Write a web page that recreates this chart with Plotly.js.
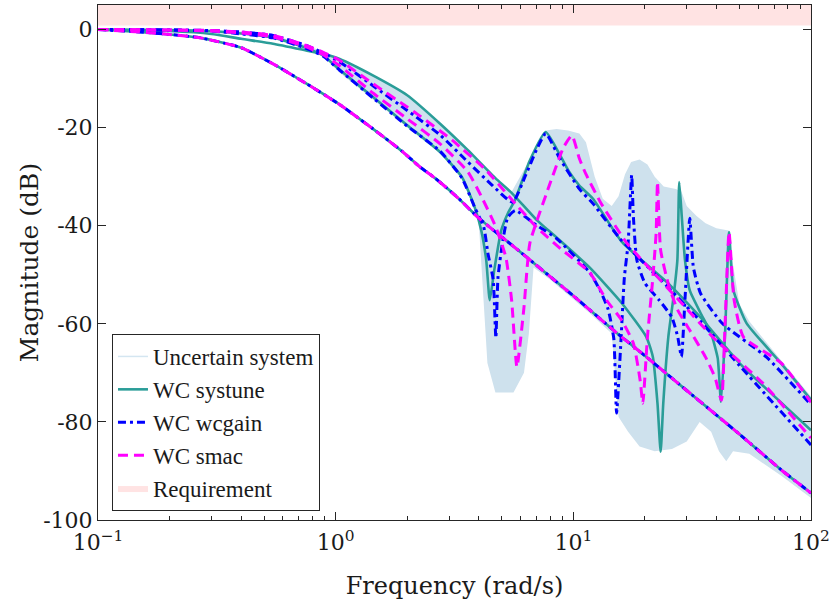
<!DOCTYPE html>
<html>
<head>
<meta charset="utf-8">
<script src="https://cdn.plot.ly/plotly-3.0.1.min.js"></script>
<style>
	body { margin: 0; background: white; }
</style>
</head>
<body>
<div id="chart" style="width:830px;height:600px"></div>
<script>
// axis ticks
const freqTicks = [0.1, 1, 10, 100]
const freqTickText = ['10<sup>−1</sup>', '10<sup>0</sup>', '10<sup>1</sup>', '10<sup>2</sup>']
const magTicks = [0, -20, -40, -60, -80, -100]
const magTickText = ['0', '-20', '-40', '-60', '-80', '-100']

// requirement band (dB)
const reqFreq = [0.1, 100]
const reqLow = 0.8
const reqHigh = 5

// lower output channel, same for every worst case (rad/s, dB)
const lowFreq = [0.1, 0.15, 0.2, 0.27, 0.4, 0.545, 0.757, 1.04, 1.44, 1.9, 2.26, 2.62, 3.3, 3.97, 6, 10, 15, 20, 30, 50, 75, 100]
const lowMag = [0, -0.5, -1.0, -1.7, -3.7, -7.0, -11.1, -15.3, -20.3, -24.8, -28.0, -30.3, -34.5, -38.3, -45.4, -54.3, -61.6, -66.5, -73.6, -82.5, -89.8, -94.5]

// WC systune
const systuneAFreq = [0.1, 0.2, 0.3, 0.4, 0.545, 0.757, 0.89, 1.04, 1.44, 2.0, 2.75, 3.6, 4.7, 5.5, 7, 8.5, 11.7, 16, 20.3, 21.6, 22.6, 23.3, 23.9, 25.1, 26.4, 27.4, 27.9, 28.6, 29.5, 30.9, 34.3, 38, 40.5, 41.8, 43.5, 45.2, 47.2, 53.6, 74.7, 100]
const systuneAMag = [0, -0.3, -0.9, -1.9, -2.9, -4.3, -5.0, -6.0, -9.4, -13.4, -19.2, -24.6, -30.3, -33.3, -38.8, -42.4, -48.5, -55.8, -62.7, -66.7, -76.2, -86.1, -76.2, -62.7, -54.5, -47, -31.1, -38.2, -47, -53.2, -57.8, -62, -67, -75.9, -62, -41.3, -53.2, -59.9, -68, -75.5]
const systuneBFreq = [0.1, 0.2, 0.3, 0.4, 0.545, 0.757, 0.89, 1.04, 1.44, 2.0, 2.75, 3.4, 3.85, 4.1, 4.3, 4.45, 4.65, 4.97, 5.3, 5.68, 6.56, 7.65, 8.77, 9.6, 10.6, 12.1, 16, 25.5, 34.3, 50, 100]
const systuneBMag = [0, -0.1, -0.3, -0.8, -1.6, -3.8, -5.4, -8.2, -13.8, -19.5, -25, -30.1, -36.3, -41, -47, -55.2, -49, -41, -37.5, -34.8, -26.7, -20.9, -25.5, -29, -31.8, -34.5, -43.3, -52.1, -58.7, -68, -81.7]

// WC wcgain
const wcgainAFreq = [0.1, 0.2, 0.3, 0.4, 0.545, 0.757, 0.89, 1.04, 1.44, 2.0, 2.75, 3.4, 3.85, 4.2, 4.37, 4.6, 4.72, 4.82, 5.05, 5.3, 5.7, 7, 8.5, 11.7, 13, 14, 14.8, 15.2, 15.8, 16.4, 17, 17.6, 17.9, 18.5, 20, 23, 26, 27.5, 28.5, 29.5, 30.9, 32, 34.3, 42.3, 65, 100]
const wcgainAMag = [0, -0.1, -0.3, -0.9, -1.7, -3.9, -5.5, -8.3, -14, -19.7, -24.8, -30.3, -36.3, -40.3, -45.6, -51, -62.9, -50.5, -43, -38.3, -36.9, -39.9, -42.6, -49.5, -53.3, -57, -63, -78.2, -65, -50.5, -43.6, -29.7, -38.3, -47, -51.7, -55.2, -58.7, -62.7, -66.7, -55, -38.5, -48.5, -53.8, -59.9, -66.8, -76.5]
const wcgainBFreq = [0.1, 0.2, 0.3, 0.4, 0.545, 0.757, 0.89, 1.04, 1.44, 2.0, 2.75, 3.6, 4.5, 5.55, 6.3, 7, 7.65, 8.77, 10.6, 12.1, 15.7, 25, 34.3, 50, 100]
const wcgainBMag = [0, -0.1, -0.2, -0.5, -1.2, -3.3, -4.8, -6.6, -11.5, -16.5, -21.5, -27, -31.5, -35.2, -29.7, -24.5, -21.2, -26.3, -32.5, -35.5, -42.6, -52.5, -59.5, -68.5, -84.7]

// WC smac
const smacAFreq = [0.1, 0.2, 0.3, 0.4, 0.545, 0.757, 0.89, 1.04, 1.44, 2.0, 2.26, 3.1, 4.3, 5.4, 7, 9, 11.7, 13.8, 16, 17.9, 19.1, 19.6, 20.5, 21.5, 22.3, 22.6, 23.3, 25.3, 27.5, 30.9, 36, 39.5, 42, 43.5, 45.2, 47.5, 52, 75, 100]
const smacAMag = [0, -0.1, -0.2, -0.5, -1.2, -3.3, -4.7, -6.3, -11.1, -15.8, -17.6, -22.6, -28.7, -34.2, -40.3, -45, -49.5, -55.2, -59.3, -64, -71.5, -76.2, -62.7, -51.8, -41.6, -31.1, -45, -52.5, -57.2, -61.3, -66.8, -71, -75.6, -60, -41.3, -55.2, -62.7, -68, -76]
const smacBFreq = [0.1, 0.2, 0.3, 0.4, 0.545, 0.757, 0.89, 1.04, 1.44, 2.0, 2.75, 3.6, 4.1, 4.72, 5.2, 5.5, 5.79, 6.2, 6.56, 7.7, 9.1, 9.86, 10.6, 11.3, 13, 16.7, 20.3, 28.2, 38.6, 62.7, 100]
const smacBMag = [0, -0.1, -0.3, -0.7, -1.5, -3.6, -5.2, -7.4, -13, -18.2, -23.3, -29, -34, -40.3, -46.4, -55.2, -68.8, -56.6, -43.6, -33.5, -24, -21.6, -26.3, -29.5, -35.2, -43.4, -48, -55.5, -62.7, -72.1, -83.3]

// envelope of the uncertain system responses
const bandTopFreq = [0.1, 0.4, 0.545, 0.757, 0.89, 1.04, 1.44, 2.0, 2.75, 3.6, 4.7, 5.5, 6.56, 7.65, 8.5, 9.5, 10.6, 11.3, 12.3, 13.3, 14.5, 15.5, 16.5, 17.5, 19, 20.5, 22, 24, 27, 28.5, 30, 33, 36, 40, 45, 47, 50, 55, 75, 100]
const bandTopMag = [0, -0.4, -1.1, -3.2, -4.6, -5.9, -9.3, -13.3, -19.1, -24.5, -30.1, -33.1, -26.5, -20.6, -20.3, -20.6, -21.2, -23, -30, -34.5, -36, -34, -29.5, -27, -26.5, -27.5, -30, -32, -32.5, -33, -36, -38, -39.5, -40.5, -41, -48, -56, -59.5, -67.5, -74.8]
const bandBotFreq = [0.1, 0.4, 0.545, 0.757, 0.89, 1.04, 1.44, 2.0, 2.75, 3.4, 3.85, 4.0, 4.15, 4.35, 4.7, 5.6, 6.2, 6.5, 6.8, 8, 11.7, 14.5, 15.5, 17, 19, 22, 26, 30, 34, 38, 41, 44, 47, 55, 75, 100]
const bandBotMag = [0, -1, -1.8, -4, -5.6, -8.8, -14.3, -20, -25.3, -30.6, -36.8, -39.3, -52, -68, -74, -74, -70, -62, -48.5, -51, -57.8, -62, -79, -82, -85, -86, -85.5, -84, -80, -82, -86, -88, -86, -86.5, -91, -95.5]

const teal = '#2a9d98'
const blue = '#0000ff'
const magenta = '#ff00ff'
const uncertainBlue = '#cee1ed'
const axisFont = 'DejaVu Serif'
const legendFont = 'Liberation Serif, DejaVu Serif'

// minor ticks at 2..9 of each decade
let minorTicks = []
for (let decade of [0.1, 1, 10]) {
	for (let k = 2; k < 10; k++) minorTicks.push(k * decade)
}

function curve(freq, mag, colour, dash, width, name, rank, show) {
	return {
		x: freq,
		y: mag,
		type: 'scatter',
		mode: 'lines',
		line: {color: colour, dash: dash, width: width, shape: 'spline', smoothing: 0.5},
		name: name,
		legendgroup: name,
		legendrank: rank,
		showlegend: show,
		hoverinfo: 'skip',
	}
}

let traces = [
	{
		// requirement, drawn behind everything
		x: [reqFreq[0], reqFreq[1], reqFreq[1], reqFreq[0]],
		y: [reqLow, reqLow, reqHigh, reqHigh],
		type: 'scatter',
		mode: 'lines',
		fill: 'toself',
		fillcolor: '#ffe3e3',
		line: {width: 0, color: '#ffe3e3'},
		name: 'Requirement',
		legendrank: 5,
		hoverinfo: 'skip',
	},
	{
		x: bandTopFreq.concat(bandBotFreq.slice().reverse()),
		y: bandTopMag.concat(bandBotMag.slice().reverse()),
		type: 'scatter',
		mode: 'lines',
		fill: 'toself',
		fillcolor: uncertainBlue,
		line: {width: 0, color: uncertainBlue},
		showlegend: false,
		hoverinfo: 'skip',
	},
	curve(lowFreq, lowMag, '#d4e6f1', 'solid', 1.5, 'Uncertain system', 1, true),
	curve(systuneAFreq, systuneAMag, teal, 'solid', 2.6, 'WC systune', 2, true),
	curve(systuneBFreq, systuneBMag, teal, 'solid', 2.6, 'WC systune', 2, false),
	curve(lowFreq, lowMag, teal, 'solid', 2.6, 'WC systune', 2, false),
	curve(wcgainAFreq, wcgainAMag, blue, '8px,4px,3px,4px', 3, 'WC wcgain', 3, true),
	curve(wcgainBFreq, wcgainBMag, blue, '8px,4px,3px,4px', 3, 'WC wcgain', 3, false),
	curve(lowFreq, lowMag, blue, '8px,4px,3px,4px', 3, 'WC wcgain', 3, false),
	curve(smacAFreq, smacAMag, magenta, '10px,6px', 3, 'WC smac', 4, true),
	curve(smacBFreq, smacBMag, magenta, '10px,6px', 3, 'WC smac', 4, false),
	curve(lowFreq, lowMag, magenta, '10px,6px', 3, 'WC smac', 4, false),
]

let axisColour = '#262626'

Plotly.newPlot('chart', traces, {
	width: 830,
	height: 600,
	margin: {l: 98, r: 19, t: 5, b: 80},
	paper_bgcolor: 'white',
	plot_bgcolor: 'white',
	font: {family: axisFont, size: 22, color: '#1a1a1a'},
	showlegend: true,
	legend: {
		x: 0.0196,
		y: 0.0175,
		xanchor: 'left',
		yanchor: 'bottom',
		bgcolor: 'white',
		bordercolor: axisColour,
		borderwidth: 1,
		font: {family: legendFont, size: 23},
		tracegroupgap: 0,
		traceorder: 'normal',
	},
	xaxis: {
		type: 'log',
		range: [-1, 2],
		tickmode: 'array',
		tickvals: freqTicks,
		ticktext: freqTickText,
		ticks: 'inside',
		ticklen: 8,
		tickcolor: axisColour,
		ticklabelstandoff: 3,
		ticklabeloverflow: 'allow',
		showline: true,
		linecolor: axisColour,
		mirror: 'ticks',
		showgrid: false,
		zeroline: false,
		tickfont: {family: axisFont, size: 22},
		minor: {tickmode: 'array', tickvals: minorTicks, ticks: 'inside', ticklen: 4, tickcolor: axisColour, showgrid: false},
		title: {text: 'Frequency (rad/s)', font: {family: axisFont, size: 24}},
	},
	yaxis: {
		range: [-100, 5],
		tickmode: 'array',
		tickvals: magTicks,
		ticktext: magTickText,
		ticks: 'inside',
		ticklen: 8,
		tickcolor: axisColour,
		showline: true,
		linecolor: axisColour,
		mirror: 'ticks',
		showgrid: false,
		zeroline: false,
		tickfont: {family: axisFont, size: 22},
		title: {text: 'Magnitude (dB)', font: {family: axisFont, size: 25}},
	},
}, {staticPlot: true, displayModeBar: false})
</script>
</body>
</html>
